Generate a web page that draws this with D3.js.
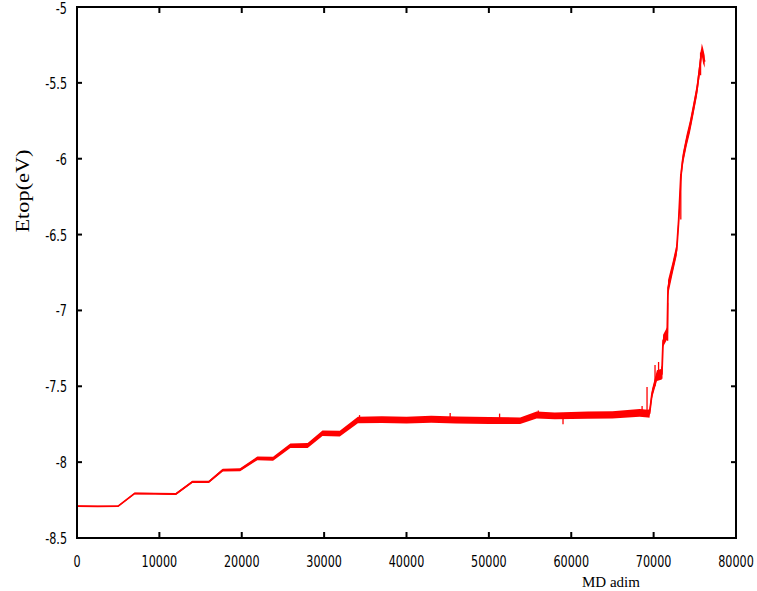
<!DOCTYPE html>
<html>
<head>
<meta charset="utf-8">
<script src="https://cdn.jsdelivr.net/npm/d3@7"></script>
<style>
  html, body { margin: 0; padding: 0; background: #fff; }
  svg { display: block; }
</style>
</head>
<body>
<svg id="chart" width="757" height="591"></svg>
<script>
// MD step (dimensionless) and top energy along the run
const mdSteps = [0, 2500, 5000, 7000, 9500, 12000, 14000, 16000, 17700, 19800, 21900, 23800,
  25900, 28000, 29800, 31900, 34100, 37000, 40000, 43000, 46000, 50000, 53800, 55800,
  58000, 62000, 65000, 68300, 69300, 69500, 69800, 70400, 71000, 71150, 71650, 71750,
  72300, 72800, 73050, 73300, 73550, 74000, 74400, 74800, 75250, 75600, 75850, 76000, 76200];
const etop = [-8.29, -8.292, -8.29, -8.206, -8.208, -8.21, -8.13, -8.13, -8.052, -8.05, -7.975, -7.978,
  -7.892, -7.89, -7.81, -7.812, -7.722, -7.72, -7.723, -7.718, -7.722, -7.725, -7.727, -7.69,
  -7.695, -7.69, -7.688, -7.675, -7.68, -7.68, -7.55, -7.43, -7.42, -7.2, -7.15, -6.85,
  -6.72, -6.6, -6.4, -6.12, -6.0, -5.88, -5.79, -5.68, -5.55, -5.4, -5.28, -5.32, -5.36];
// half width of the fluctuation band (eV)
const spread = [0.005, 0.004, 0.004, 0.005, 0.005, 0.006, 0.007, 0.008, 0.009, 0.01, 0.012, 0.013,
  0.015, 0.016, 0.018, 0.019, 0.021, 0.022, 0.022, 0.023, 0.023, 0.023, 0.022, 0.023,
  0.023, 0.024, 0.024, 0.025, 0.026, 0.028, 0.03, 0.035, 0.035, 0.04, 0.04, 0.05,
  0.04, 0.04, 0.04, 0.04, 0.04, 0.04, 0.04, 0.04, 0.04, 0.05, 0.04, 0.05, 0.04];
// isolated excursions beyond the band: step, low end, high end
const spikeMd = [34300, 45300, 51300, 56000, 59000, 68600, 69200, 70170, 70600, 71000, 71700, 73300, 75700];
const spikeLo = [-7.74, -7.72, -7.72, -7.70, -7.75, -7.68, -7.68, -7.50, -7.45, -7.45, -7.20, -6.40, -5.45];
const spikeHi = [-7.69, -7.676, -7.68, -7.66, -7.70, -7.63, -7.505, -7.36, -7.34, -7.37, -6.95, -6.10, -5.30];

const xTicks = [0, 10000, 20000, 30000, 40000, 50000, 60000, 70000, 80000];
const yTicks = [-5, -5.5, -6, -6.5, -7, -7.5, -8, -8.5];

const plotLeft = 77, plotRight = 736, plotTop = 7, plotBottom = 538;
const svg = d3.select("#chart");

const x = d3.scaleLinear().domain([0, 80000]).range([plotLeft, plotRight]);
const y = d3.scaleLinear().domain([-8.5, -5]).range([plotBottom, plotTop]);

const pts = mdSteps.map((m, i) => ({ m, e: etop[i], s: spread[i] }));

// fluctuation band
svg.append("path")
  .datum(pts)
  .attr("fill", "#ff0000")
  .attr("d", d3.area().x(d => x(d.m)).y0(d => y(d.e - d.s)).y1(d => y(d.e + d.s)));

// running value
svg.append("path")
  .datum(pts)
  .attr("fill", "none")
  .attr("stroke", "#ff0000")
  .attr("stroke-width", 1.8)
  .attr("stroke-linejoin", "bevel")
  .attr("d", d3.line().x(d => x(d.m)).y(d => y(d.e)));

// excursions
svg.append("g").selectAll("line")
  .data(spikeMd.map((m, i) => ({ m, lo: spikeLo[i], hi: spikeHi[i] })))
  .join("line")
  .attr("x1", d => x(d.m)).attr("x2", d => x(d.m))
  .attr("y1", d => y(d.lo)).attr("y2", d => y(d.hi))
  .attr("stroke", "#ff0000").attr("stroke-width", 1.3);

// frame
svg.append("rect")
  .attr("x", plotLeft).attr("y", plotTop)
  .attr("width", plotRight - plotLeft).attr("height", plotBottom - plotTop)
  .attr("fill", "none").attr("stroke", "#000").attr("stroke-width", 2);

// inward ticks on all four sides
const tickG = svg.append("g").attr("stroke", "#000").attr("stroke-width", 2);
yTicks.forEach(v => {
  tickG.append("line").attr("x1", plotLeft).attr("x2", plotLeft + 5).attr("y1", y(v)).attr("y2", y(v));
  tickG.append("line").attr("x1", plotRight).attr("x2", plotRight - 5).attr("y1", y(v)).attr("y2", y(v));
});
xTicks.forEach(v => {
  tickG.append("line").attr("x1", x(v)).attr("x2", x(v)).attr("y1", plotBottom).attr("y2", plotBottom - 6);
  tickG.append("line").attr("x1", x(v)).attr("x2", x(v)).attr("y1", plotTop).attr("y2", plotTop + 6);
});

// tick labels (narrow, tall digits)
const labelFont = "'DejaVu Sans', sans-serif";
yTicks.forEach(v => {
  svg.append("text")
    .attr("transform", `translate(67,${Math.max(y(v) + 6, 14)}) scale(0.7,1)`)
    .attr("text-anchor", "end")
    .attr("font-family", labelFont).attr("font-size", 16).attr("fill", "#000")
    .text(String(v));
});
xTicks.forEach(v => {
  svg.append("text")
    .attr("transform", `translate(${x(v)},567) scale(0.7,1)`)
    .attr("text-anchor", "middle")
    .attr("font-family", labelFont).attr("font-size", 16).attr("fill", "#000")
    .text(String(v));
});

// axis titles
svg.append("text")
  .attr("x", 611).attr("y", 587)
  .attr("text-anchor", "middle")
  .attr("font-family", "'Liberation Serif', 'Times New Roman', serif")
  .attr("font-size", 15).attr("fill", "#000")
  .text("MD adim");

svg.append("text")
  .attr("transform", "translate(29,191) rotate(-90)")
  .attr("text-anchor", "middle")
  .attr("font-family", "'Liberation Serif', 'Times New Roman', serif")
  .attr("font-size", 19).attr("fill", "#000")
  .attr("textLength", 83).attr("lengthAdjust", "spacingAndGlyphs")
  .text("Etop(eV)");
</script>
</body>
</html>
